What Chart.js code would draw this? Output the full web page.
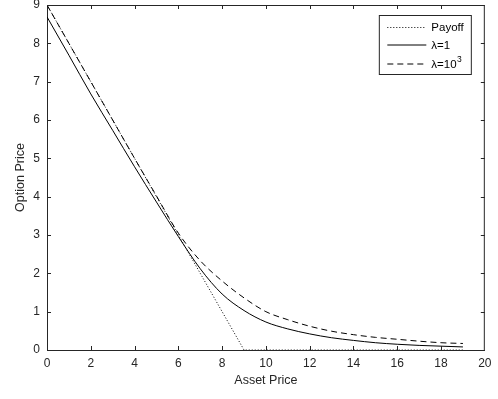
<!DOCTYPE html>
<html>
<head>
<meta charset="utf-8">
<script src="https://cdn.jsdelivr.net/npm/chart.js@4"></script>
<style>
  html, body { margin: 0; padding: 0; background: #fff; }
  #wrap { width: 498px; height: 399px; }
</style>
</head>
<body>
<div id="wrap"><canvas id="myChart"></canvas></div>
<script>
const assetPrice = [0, 1, 2, 3, 4, 5, 6, 7, 8, 9, 10, 11, 12, 13, 14, 15, 16, 17, 18, 19];
const payoff = [9, 8, 7, 6, 5, 4, 3, 2, 1, 0, 0, 0, 0, 0, 0, 0, 0, 0, 0, 0];
const lambdaOne = [8.69, 7.69, 6.68, 5.73, 4.78, 3.86, 2.96, 2.12, 1.46, 1.03, 0.73, 0.55, 0.42, 0.32, 0.25, 0.19, 0.15, 0.12, 0.10, 0.08];
const lambdaThousand = [9.0, 8.0, 7.0, 6.0, 5.0, 4.02, 3.05, 2.33, 1.80, 1.36, 1.00, 0.79, 0.62, 0.49, 0.40, 0.33, 0.28, 0.23, 0.19, 0.17];

const axisColor = "#262626";
const fontFamily = "'Liberation Sans', Arial, sans-serif";

function toPoints(ys) {
    return assetPrice.map(function (x, i) { return { x: x, y: ys[i] }; });
}

// box, inward ticks and the legend inside the plot, MATLAB style
const boxPlugin = {
    id: "boxPlugin",
    afterDatasetsDraw: function (chart) {
        const ctx = chart.ctx;
        const a = chart.chartArea;
        const xs = chart.scales.x;
        const ys = chart.scales.y;
        ctx.save();
        ctx.strokeStyle = axisColor;
        ctx.lineWidth = 1;
        ctx.setLineDash([]);
        ctx.beginPath();
        ctx.moveTo(a.left, a.top + 0.5);
        ctx.lineTo(a.right, a.top + 0.5);
        ctx.moveTo(a.right - 0.5, a.top);
        ctx.lineTo(a.right - 0.5, a.bottom);
        for (let v = 2; v < 20; v += 2) {
            const px = Math.round(xs.getPixelForValue(v)) + 0.5;
            ctx.moveTo(px, a.bottom);
            ctx.lineTo(px, a.bottom - 4);
            ctx.moveTo(px, a.top);
            ctx.lineTo(px, a.top + 4);
        }
        for (let v = 1; v < 9; v++) {
            const py = Math.round(ys.getPixelForValue(v)) + 0.5;
            ctx.moveTo(a.left, py);
            ctx.lineTo(a.left + 4, py);
            ctx.moveTo(a.right, py);
            ctx.lineTo(a.right - 4, py);
        }
        ctx.stroke();

        // legend
        const bx = a.right - 105.5, by = a.top + 10.5, bw = 92, bh = 59;
        ctx.fillStyle = "#fff";
        ctx.fillRect(bx, by, bw, bh);
        ctx.strokeRect(bx, by, bw, bh);
        const rows = [
            { ds: 0, text: "Payoff", sup: "", y: 12 },
            { ds: 1, text: "\u03bb=1", sup: "", y: 29.5 },
            { ds: 2, text: "\u03bb=10", sup: "3", y: 48.5 }
        ];
        ctx.textBaseline = "middle";
        rows.forEach(function (r) {
            const d = chart.data.datasets[r.ds];
            ctx.strokeStyle = d.borderColor;
            ctx.lineWidth = 1;
            ctx.setLineDash(d.borderDash || []);
            ctx.beginPath();
            ctx.moveTo(bx + 8, by + r.y);
            ctx.lineTo(bx + 47, by + r.y);
            ctx.stroke();
            ctx.fillStyle = "#000";
            ctx.font = "11.5px " + fontFamily;
            ctx.fillText(r.text, bx + 52, by + r.y + 0.5);
            if (r.sup) {
                const w = ctx.measureText(r.text).width;
                ctx.font = "8.5px " + fontFamily;
                ctx.fillText(r.sup, bx + 52 + w + 0.5, by + r.y - 4.5);
            }
        });
        ctx.restore();
    }
};

const ctx = document.getElementById("myChart");

new Chart(ctx, {
    type: "line",
    data: {
        datasets: [
            {
                label: "Payoff",
                data: toPoints(payoff),
                borderColor: "#000",
                borderWidth: 1,
                borderDash: [1, 2],
                pointRadius: 0,
                tension: 0,
            },
            {
                label: "\u03bb=1",
                data: toPoints(lambdaOne),
                borderColor: "#000",
                borderWidth: 1,
                pointRadius: 0,
                cubicInterpolationMode: "monotone",
            },
            {
                label: "\u03bb=10^3",
                data: toPoints(lambdaThousand),
                borderColor: "#000",
                borderWidth: 1,
                borderDash: [6, 4],
                pointRadius: 0,
                cubicInterpolationMode: "monotone",
            },
        ],
    },
    options: {
        responsive: true,
        maintainAspectRatio: false,
        animation: false,
        layout: { padding: { left: 0, top: 5, right: 11.5, bottom: 0 } },
        plugins: {
            legend: { display: false },
            tooltip: { enabled: false },
        },
        scales: {
            x: {
                type: "linear",
                min: 0,
                max: 20,
                afterFit: function (scale) { scale.height = 49; },
                ticks: {
                    stepSize: 2,
                    color: axisColor,
                    padding: 6.5,
                    maxRotation: 0,
                    font: { family: fontFamily, size: 12 },
                },
                grid: { display: false, drawTicks: false },
                border: { display: true, color: axisColor, width: 1 },
                title: {
                    display: true,
                    text: "Asset Price",
                    color: axisColor,
                    padding: { top: 2, bottom: 10.5 },
                    font: { family: fontFamily, size: 12.5 },
                },
            },
            y: {
                min: 0,
                max: 9,
                afterFit: function (scale) {
                    scale.width = 47;
                    scale.paddingTop = 0;
                    scale.paddingBottom = 0;
                },
                ticks: {
                    stepSize: 1,
                    color: axisColor,
                    padding: 7,
                    font: { family: fontFamily, size: 12 },
                },
                grid: { display: false, drawTicks: false },
                border: { display: true, color: axisColor, width: 1 },
                title: {
                    display: true,
                    text: "Option Price",
                    color: axisColor,
                    padding: { top: 13, bottom: 0 },
                    font: { family: fontFamily, size: 12.5 },
                },
            },
        },
    },
    plugins: [boxPlugin],
});
</script>
</body>
</html>
